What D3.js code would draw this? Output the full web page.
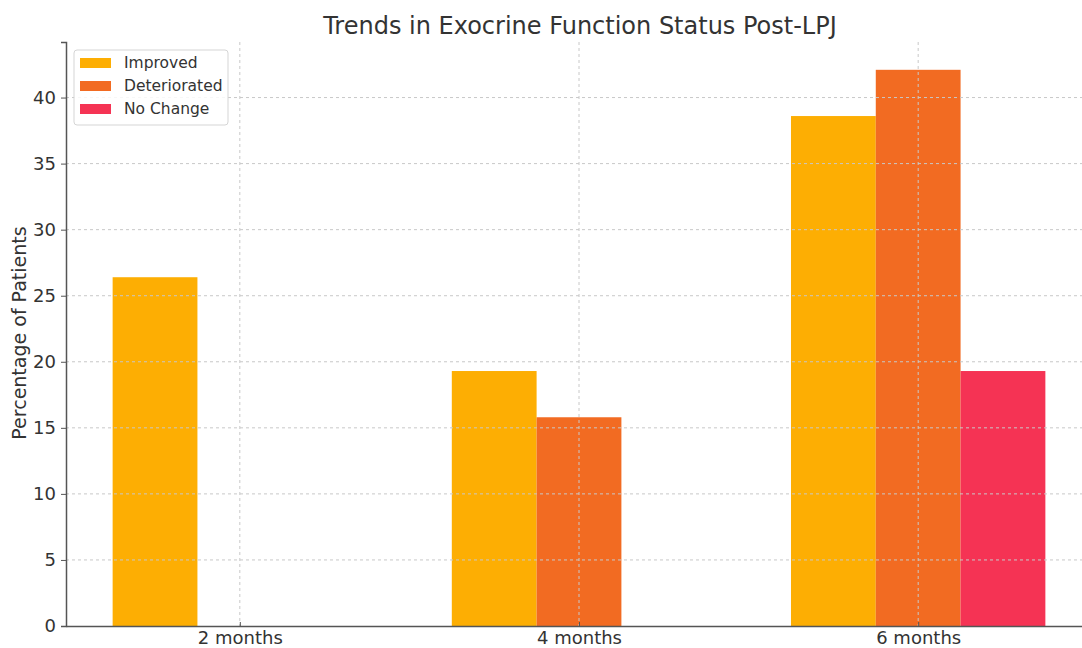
<!DOCTYPE html>
<html>
<head>
<meta charset="utf-8">
<script src="https://cdn.jsdelivr.net/npm/d3@7"></script>
<style>
  body { margin: 0; background: #fff; }
  text { font-family: "DejaVu Sans", sans-serif; fill: #333; }
</style>
</head>
<body>
<div id="chart"></div>
<script>
const categories = ["2 months", "4 months", "6 months"];
const seriesNames = ["Improved", "Deteriorated", "No Change"];
const improved = [26.4, 19.3, 38.6];
const deteriorated = [0, 15.8, 42.1];
const noChange = [0, 0, 19.3];
const yTicks = [0, 5, 10, 15, 20, 25, 30, 35, 40];
const colors = ["#fdae03", "#f26b22", "#f53354"];

const seriesValues = [improved, deteriorated, noChange];
const W = 1082, H = 648;
const margin = { top: 42, right: -10, bottom: 22, left: 66 };
const width = W - margin.left - margin.right;
const height = H - margin.top - margin.bottom;

const svg = d3.select("#chart").append("svg")
    .attr("width", W)
    .attr("height", H);

const g = svg.append("g")
    .attr("transform", `translate(${margin.left},${margin.top})`);

// numeric x like matplotlib: positions 0,1,2 with bar width 0.25
const barW = 0.25;
const x = d3.scaleLinear().domain([-0.5125, 2.5125]).range([0, width]);
const y = d3.scaleLinear().domain([0, 42.1 * 1.05]).range([height, 0]);

// bars
seriesValues.forEach((vals, si) => {
    g.selectAll(".bar" + si)
        .data(vals)
        .enter().append("rect")
        .attr("x", (d, i) => x(i + (si - 1) * barW - barW / 2))
        .attr("width", x(barW) - x(0))
        .attr("y", d => y(d))
        .attr("height", d => y(0) - y(d))
        .attr("fill", colors[si]);
});

// grid on top of bars
g.append("g").selectAll("line")
    .data(yTicks.slice(1))
    .enter().append("line")
    .attr("x1", 0).attr("x2", width)
    .attr("y1", d => y(d)).attr("y2", d => y(d))
    .attr("stroke", "#c8c8c8").attr("stroke-width", 1)
    .attr("stroke-dasharray", "3,3");

g.append("g").selectAll("line")
    .data(categories)
    .enter().append("line")
    .attr("x1", (d, i) => x(i)).attr("x2", (d, i) => x(i))
    .attr("y1", 0).attr("y2", height)
    .attr("stroke", "#c8c8c8").attr("stroke-width", 1)
    .attr("stroke-dasharray", "3,3");

// y axis
const yAxis = g.append("g")
    .call(d3.axisLeft(y).tickValues(yTicks).tickSize(5).tickPadding(5));
yAxis.select(".domain").attr("stroke", "#555").attr("stroke-width", 1.5);
yAxis.selectAll(".tick line").attr("stroke", "#555");
yAxis.selectAll("text").style("font-size", "18px").attr("fill", "#333");

// x axis with inward ticks
const xAxis = g.append("g")
    .attr("transform", `translate(0,${height})`)
    .call(d3.axisBottom(x).tickValues([0, 1, 2])
        .tickFormat((d, i) => categories[i]).tickSizeInner(-4).tickSizeOuter(0).tickPadding(5));
xAxis.select(".domain").attr("stroke", "#555").attr("stroke-width", 1.5);
xAxis.selectAll(".tick line").attr("stroke", "#555");
xAxis.selectAll("text").style("font-size", "18px").attr("fill", "#333");

// title
svg.append("text")
    .attr("x", 580).attr("y", 34)
    .attr("text-anchor", "middle")
    .style("font-size", "24px")
    .text("Trends in Exocrine Function Status Post-LPJ");

// y label
svg.append("text")
    .attr("transform", `translate(26,333) rotate(-90)`)
    .attr("text-anchor", "middle")
    .style("font-size", "19px")
    .text("Percentage of Patients");

// legend
const legend = g.append("g").attr("transform", "translate(8,8)");
legend.append("rect")
    .attr("width", 154).attr("height", 75)
    .attr("rx", 3)
    .attr("fill", "#fff").attr("fill-opacity", 0.85)
    .attr("stroke", "#d5d5d5");
const items = legend.selectAll(".legend-item")
    .data(seriesNames)
    .enter().append("g")
    .attr("transform", (d, i) => `translate(6,${13 + i * 23})`);
items.append("rect")
    .attr("x", 0).attr("y", -5)
    .attr("width", 31).attr("height", 10)
    .attr("fill", (d, i) => colors[i]);
items.append("text")
    .attr("x", 44).attr("y", 5)
    .style("font-size", "15.5px")
    .text(d => d);
</script>
</body>
</html>
